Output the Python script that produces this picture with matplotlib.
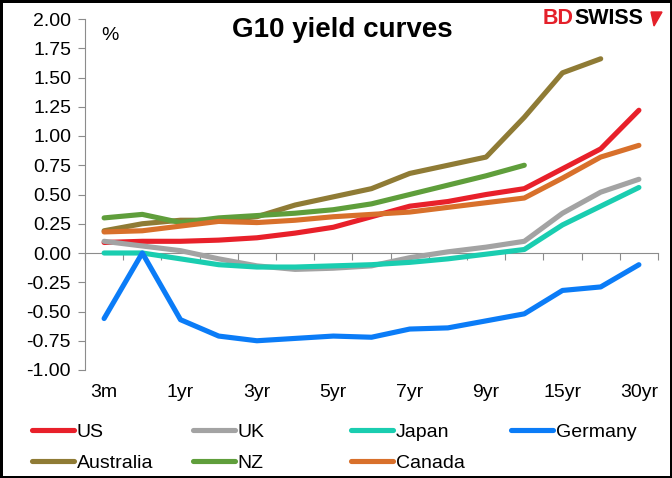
import numpy as np
import matplotlib.pyplot as plt
from matplotlib.ticker import FormatStrFormatter
from matplotlib.patches import Polygon

plt.rcParams['font.family'] = ['Liberation Sans', 'DejaVu Sans']

# maturities on the x axis (only every other one is labelled)
maturities = ['3m', '6m', '1yr', '2yr', '3yr', '4yr', '5yr', '6yr', '7yr',
              '8yr', '9yr', '10yr', '15yr', '20yr', '30yr']

nan = np.nan
us        = [0.09, 0.10, 0.10, 0.11, 0.13, 0.17, 0.22, 0.31, 0.40, 0.44, 0.50, 0.55, 0.72, 0.89, 1.22]
uk        = [0.10, 0.06, 0.02, -0.05, -0.11, -0.14, -0.13, -0.11, -0.04, 0.01, 0.05, 0.10, 0.34, 0.52, 0.63]
japan     = [0.00, 0.00, -0.05, -0.10, -0.12, -0.12, -0.11, -0.10, -0.08, -0.05, -0.01, 0.03, 0.24, 0.40, 0.56]
germany   = [-0.56, 0.00, -0.57, -0.71, -0.75, -0.73, -0.71, -0.72, -0.65, -0.64, -0.58, -0.52, -0.32, -0.29, -0.10]
australia = [0.19, 0.25, 0.28, 0.28, 0.31, 0.41, 0.48, 0.55, 0.68, 0.75, 0.82, 1.16, 1.54, 1.66, nan]
nz        = [0.30, 0.33, 0.26, 0.30, 0.32, 0.34, 0.37, 0.42, 0.50, 0.58, 0.66, 0.75, nan, nan, nan]
canada    = [0.18, 0.19, 0.23, 0.27, 0.26, 0.28, 0.31, 0.33, 0.35, 0.39, 0.43, 0.47, 0.64, 0.82, 0.92]

names  = ['US', 'UK', 'Japan', 'Germany', 'Australia', 'NZ', 'Canada']
values = [us, uk, japan, germany, australia, nz, canada]
colors = ['#E8202A', '#A3A3A3', '#1ACDB0', '#0B7CF7', '#8F7B35', '#5F9E3B', '#D8702B']

W, H = 672, 478
fig = plt.figure(figsize=(W / 100, H / 100), dpi=100, edgecolor='black', linewidth=2.5)
ax = fig.add_axes([85 / W, 1 - 370 / H, (658 - 85) / W, (370 - 19) / H])

x = np.arange(len(maturities))
lines = {}
for name, vals, col in zip(names, values, colors):
    line, = ax.plot(x, vals, color=col, lw=3.7, solid_capstyle='round',
                    solid_joinstyle='round', label=name)
    lines[name] = line

ax.set_xlim(-0.5, len(maturities) - 0.5)
ax.set_ylim(-1, 2)
ax.set_yticks(np.arange(-1, 2.01, 0.25))
ax.yaxis.set_major_formatter(FormatStrFormatter('%.2f'))
for s in ['top', 'right', 'bottom']:
    ax.spines[s].set_visible(False)
ax.spines['left'].set_color('#8C8C8C')
ax.tick_params(axis='y', color='#8C8C8C', length=5, labelsize=14, pad=5)
ax.set_xticks(x[::2])
ax.set_xticklabels(maturities[::2])
ax.tick_params(axis='x', length=0, labelsize=14, pad=10)

# zero line with tick marks between categories
zero = ax.secondary_xaxis(1 / 3)
zero.set_xticks(np.arange(-0.5, len(maturities), 1))
zero.tick_params(length=5, color='#8C8C8C', labelbottom=False, labeltop=False)
zero.spines['bottom'].set_color('#8C8C8C')

fig.text(342 / W, 1 - 30 / H, 'G10 yield curves', ha='center', va='center',
         fontsize=20, fontweight='bold')
fig.text(110 / W, 1 - 36 / H, '%', ha='center', va='center', fontsize=14)

# logo
bd = fig.text(543 / W, 1 - 19 / H, 'BD', color='#E4202A', ha='left', va='center',
              fontsize=15.5, fontweight='bold')
ax.annotate('SWISS', xy=(1, 0.5), xycoords=bd, ha='left', va='center',
            fontsize=15.5, fontweight='bold', color='black', annotation_clip=False)
fig.patches.append(Polygon([(651 / W, 1 - 12 / H), (662 / W, 1 - 12 / H), (654 / W, 1 - 26 / H)],
                           closed=True, color='#E4202A', transform=fig.transFigure))

# legend, four fixed-width columns as in the original
legend_cols = [['US', 'Australia'], ['UK', 'NZ'], ['Japan', 'Canada'], ['Germany']]
col_x = [32, 193, 351, 511]
for col, cx in zip(legend_cols, col_x):
    fig.legend([lines[n] for n in col], col, loc='upper left',
               bbox_to_anchor=(cx / W, 1 - 423 / H), frameon=False, fontsize=14,
               handlelength=2.15, handletextpad=0.15, labelspacing=0.72,
               borderpad=0, borderaxespad=0)

fig.savefig('out.png', dpi=100, edgecolor=fig.get_edgecolor())
